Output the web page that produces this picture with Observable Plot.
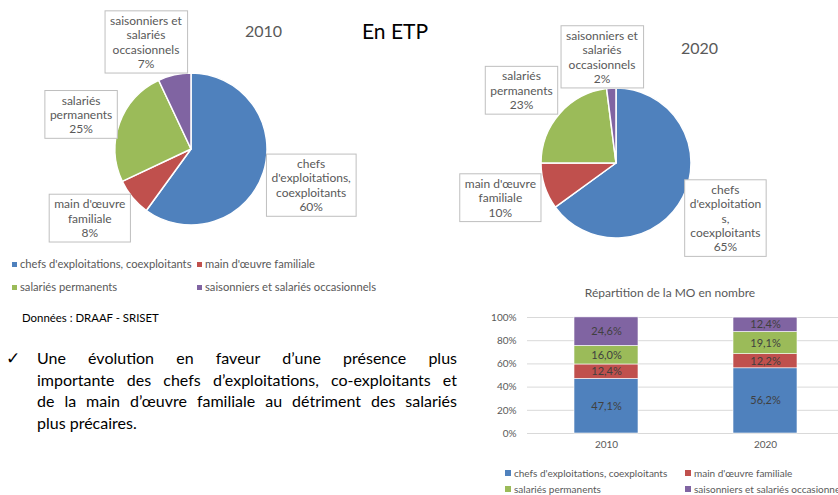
<!DOCTYPE html>
<html><head><meta charset="utf-8">
<script src="https://cdn.jsdelivr.net/npm/d3@7"></script>
<script src="https://cdn.jsdelivr.net/npm/@observablehq/plot@0.6"></script>
<style>
body{margin:0;background:#fff;}
#page{position:relative;width:838px;height:495px;overflow:hidden;font-family:Lato,sans-serif;background:#fff;}
.abs{position:absolute;white-space:nowrap;}
.jl{text-align:justify;text-align-last:justify;white-space:nowrap;}
</style></head><body><div id="page"></div>
<script>
const categories = ["chefs d'exploitations, coexploitants","main d'œuvre familiale","salariés permanents","saisonniers et salariés occasionnels"];
const colors = ["#4F81BD","#C0504D","#9BBB59","#8064A2"];
const etp2010 = [60, 8, 25, 7];
const etp2020 = [65, 10, 23, 2];
const pieLabels2010 = ["chefs\nd'exploitations,\ncoexploitants", "main d'œuvre\nfamiliale", "salariés\npermanents", "saisonniers et\nsalariés\noccasionnels"];
const pieLabels2020 = ["chefs\nd'exploitation\ns,\ncoexploitants", "main d'œuvre\nfamiliale", "salariés\npermanents", "saisonniers et\nsalariés\noccasionnels"];
const years = ["2010","2020"];
const nombre2010 = [47.1, 12.4, 16.0, 24.6];
const nombre2020 = [56.2, 12.2, 19.1, 12.4];
const yTicks = [0,20,40,60,80,100];
const barTitle = "Répartition de la MO en nombre";
const source = "Données : DRAAF - SRISET";
const textLines = ["Une évolution en faveur d’une présence plus","importante des chefs d’exploitations, co-exploitants et","de la main d’œuvre familiale au détriment des salariés","plus précaires."];

// layout only: callout nudges (px) relative to the radial label position
const nudge2010 = [[4,-2],[-8,-9],[4,6],[-19,11]];
const nudge2020 = [[2,0],[-2,-3],[-5,6],[-7,13]];

const page = document.getElementById("page");
function place(el, left, top, w){ const d=document.createElement("div"); d.className="abs"; d.style.left=left+"px"; d.style.top=top+"px"; if(w) d.style.width=w+"px"; d.appendChild(el); page.appendChild(d); return d; }
function label(text, left, top, css){ const d=document.createElement("div"); d.className="abs"; d.textContent=text; d.style.left=left+"px"; d.style.top=top+"px"; Object.assign(d.style, css||{}); page.appendChild(d); return d; }

function pie(values, labels, nudges, W, H, R){
  const slices = d3.pie().sort(null).value(d=>d)(values).map((s,i)=>({...s, i, cat: categories[i], label: labels[i]+"\n"+values[i]+"%", mid:(s.startAngle+s.endAngle)/2}));
  const k = 1.6;
  return Plot.plot({
    width: W, height: H, margin: 0,
    style: {fontFamily: "Lato, sans-serif", background: "transparent", overflow: "visible", maxWidth: "none"},
    x: {domain: [-W/2/R, W/2/R], axis: null},
    y: {domain: [-H/2/R, H/2/R], axis: null},
    marks: [
      (index, scales) => {
        const cx = scales.x(0), cy = scales.y(0), r = scales.x(1)-scales.x(0);
        const g = d3.create("svg:g").attr("transform", `translate(${cx},${cy})`);
        const arc = d3.arc().innerRadius(0).outerRadius(r);
        g.selectAll("path").data(slices).join("path").attr("d", arc).attr("fill", d=>colors[d.i]).attr("stroke","#fff").attr("stroke-width",1.5).attr("stroke-linejoin","round");
        return g.node();
      },
      Plot.text(slices, {x: d=>k*Math.sin(d.mid)+nudges[d.i][0]/R, y: d=>k*Math.cos(d.mid)-nudges[d.i][1]/R, text: "label", fontSize: 12, lineHeight: 1.2, fill: "#595959"})
    ]
  });
}
function addBoxes(svg){
  svg.querySelectorAll('g[aria-label="text"] text').forEach(t=>{
    const b=t.getBBox();
    const r=document.createElementNS("http://www.w3.org/2000/svg","rect");
    r.setAttribute("x",b.x-5); r.setAttribute("y",b.y-2); r.setAttribute("width",b.width+10); r.setAttribute("height",b.height+4);
    r.setAttribute("fill","#fff"); r.setAttribute("stroke","#bfbfbf"); r.setAttribute("stroke-width","1");
    if (t.getAttribute("transform")) r.setAttribute("transform", t.getAttribute("transform"));
    t.parentNode.insertBefore(r,t);
  });
}

// titles
label("2010", 245, 20, {fontSize:"16px", color:"#595959", lineHeight:"22px"});
label("En ETP", 362, 19, {fontSize:"21px", color:"#000", lineHeight:"24px"});
label("2020", 681, 37, {fontSize:"16px", color:"#595959", lineHeight:"22px"});

const p1 = pie(etp2010, pieLabels2010, nudge2010, 380, 290, 76);
place(p1, 1, 4, 380); addBoxes(p1);
const p2 = pie(etp2020, pieLabels2020, nudge2020, 360, 300, 75);
place(p2, 436, 13, 360); addBoxes(p2);

function legendItem(x, y, color, text, sq, fs, col){
  const d=document.createElement("div"); d.className="abs";
  d.style.left=x+"px"; d.style.top=(y-7)+"px"; d.style.lineHeight="14px"; d.style.fontSize=fs+"px"; d.style.color=col;
  const s=document.createElement("span"); s.style.cssText=`position:absolute;left:0;top:${7-sq/2}px;width:${sq}px;height:${sq}px;background:${color}`;
  const t=document.createElement("span"); t.textContent=text; t.style.cssText=`position:absolute;left:${sq+3}px;top:0;white-space:nowrap`;
  d.appendChild(s); d.appendChild(t); page.appendChild(d);
}
// pie legend
[[12,264],[197,264],[12,287],[197,287]].forEach((p,i)=>legendItem(p[0],p[1],colors[i],categories[i],5,11.2,"#595959"));

label(source, 22, 311, {fontSize:"11.4px", color:"#000", lineHeight:"14px"});

// paragraph
label("✓", 6, 347, {fontSize:"17px", color:"#000", lineHeight:"22px"});
const para=document.createElement("div"); para.className="abs"; para.style.cssText="left:37px;top:347px;width:420px;font-size:16px;line-height:21.5px;color:#000;white-space:normal";
textLines.forEach((l,i)=>{ const d=document.createElement("div"); d.textContent=l; if(i<textLines.length-1) d.className="jl"; else d.style.whiteSpace="nowrap"; para.appendChild(d); });
page.appendChild(para);

// bar chart
label(barTitle, 470, 285, {fontSize:"12px", color:"#595959", lineHeight:"16px", width:"400px", textAlign:"center"});
const fmt = v => d3.format(".1f")(v).replace(".", ",") + "%";
const barData = years.flatMap((yr,j)=>categories.map((c,i)=>({year:yr, cat:c, value:(j?nombre2020:nombre2010)[i]})));
const bar = Plot.plot({
  width: 390, height: 160, marginTop: 17, marginBottom: 27, marginLeft: 57, marginRight: 17,
  style: {fontFamily:"Lato, sans-serif", fontSize:"10px", color:"#595959", background:"transparent", overflow:"visible", maxWidth:"none"},
  x: {domain: years, paddingInner: 0.6, paddingOuter: 0.29, label: null, tickSize: 0, tickPadding: 7},
  y: {domain: [0,100], ticks: yTicks, tickFormat: d=>d+"%", label: null, tickSize: 0, tickPadding: 11},
  color: {domain: categories, range: colors},
  marks: [
    Plot.ruleY(yTicks, {stroke:"#d9d9d9"}),
    Plot.barY(barData, {x:"year", y:"value", fill:"cat", stroke:"#fff", strokeWidth:0.6}),
    Plot.text(barData, Plot.stackY({x:"year", y:"value", z:"cat", text: d=>fmt(d.value), fill:"#404040", fontSize:11}))
  ]
});
place(bar, 470, 300, 390);
[[505,473],[685,473],[505,489],[685,489]].forEach((p,i)=>legendItem(p[0],p[1],colors[i],categories[i],6,10,"#595959"));
</script></body></html>
